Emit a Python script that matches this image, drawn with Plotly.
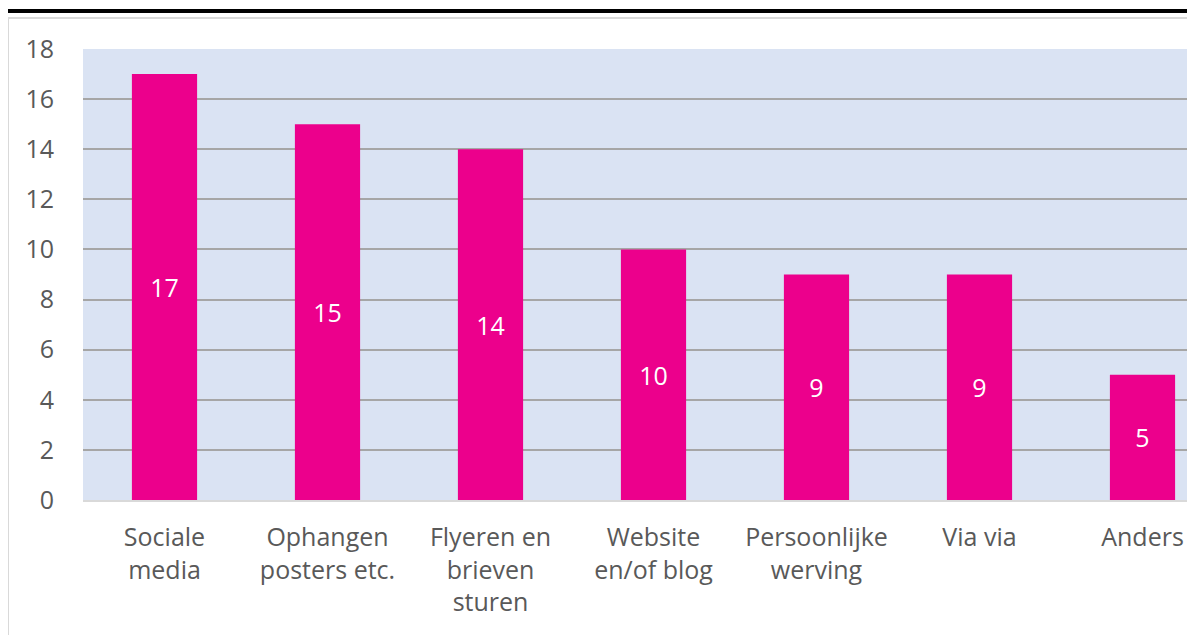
import plotly.graph_objects as go

categories = ["Sociale<br>media", "Ophangen<br>posters etc.", "Flyeren en<br>brieven<br>sturen",
              "Website<br>en/of blog", "Persoonlijke<br>werving", "Via via", "Anders"]
values = [17, 15, 14, 10, 9, 9, 5]
y_ticks = [0, 2, 4, 6, 8, 10, 12, 14, 16, 18]

OFF = 8  # page body margin
W, H = 1195, 635
ML, MR, MT = 83 - OFF, 0, 49 - OFF
MB = H - (500 - OFF)
PW, PH = W - ML - MR, H - MT - MB

def px_x(p):
    return (p - OFF - ML) / PW

def px_y(p):
    return (H - MB - (p - OFF)) / PH

fig = go.Figure(go.Bar(
    x=list(range(len(categories))), y=values,
    marker=dict(color="#ec008c", line=dict(width=0)),
    width=0.4,
    text=[str(v) for v in values],
    textposition="inside", insidetextanchor="middle", textangle=0,
    textfont=dict(color="white", size=25, family="Open Sans"),
))

fig.update_layout(
    width=W, height=H,
    margin=dict(l=ML, r=MR, t=MT, b=MB),
    paper_bgcolor="white", plot_bgcolor="#dae3f3",
    font=dict(family="Open Sans", color="#595959", size=25),
    showlegend=False,
    bargap=0.6,
    xaxis=dict(
        range=[-0.5, -0.5 + PW / 163.0],
        tickmode="array", tickvals=list(range(len(categories))), ticktext=categories,
        showgrid=False, zeroline=False, showline=True, linecolor="#d9d9d9", linewidth=2,
        ticks="", ticklabelstandoff=14, tickfont=dict(size=25, color="#595959"),
    ),
    yaxis=dict(
        range=[0, 18], tickmode="array", tickvals=y_ticks,
        showgrid=True, gridcolor="#a6a6a6", gridwidth=1.5,
        zeroline=False, showline=False, ticks="", ticklabelstandoff=28,
        tickfont=dict(size=25, color="#595959"),
    ),
    shapes=[
        dict(type="rect", xref="paper", yref="paper",
             x0=px_x(8), x1=px_x(1240), y0=px_y(18), y1=px_y(680),
             line=dict(color="#d9d9d9", width=2), fillcolor="rgba(0,0,0,0)", layer="below"),
        dict(type="line", xref="paper", yref="paper",
             x0=px_x(0), x1=px_x(1240), y0=px_y(11), y1=px_y(11),
             line=dict(color="black", width=4)),
    ],
)

fig.write_html("out.html")
